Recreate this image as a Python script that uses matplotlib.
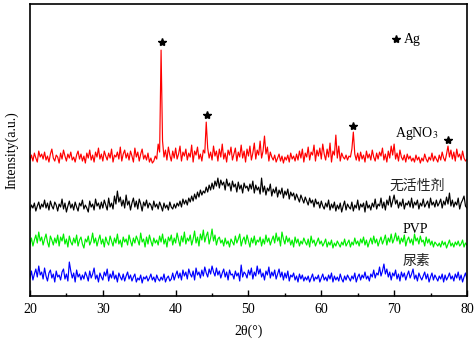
import numpy as np
import matplotlib
matplotlib.use("Agg")
import matplotlib.pyplot as plt

plt.rcParams['font.family'] = ['Liberation Serif', 'Noto Sans CJK SC', 'DejaVu Sans']
plt.rcParams['mathtext.fontset'] = 'stix'

# 2theta grid (degrees), 0.2 deg step
two_theta = np.linspace(20, 80, 301)

agno3 = [
    3, 8, 2, 10, 5, 1, 12, 6, 9, 4,
    11, 3, 7, 1, 9, 14, 5, 2, 8, 6,
    0, 10, 4, 13, 7, 2, 9, 5, 11, 3,
    6, 1, 8, 12, 4, 9, 2, 7, 0, 10,
    5, 13, 3, 8, 1, 11, 6, 15, 4, 9,
    2, 12, 7, 3, 10, 5, 14, 1, 8, 6,
    11, 4, 16, 2, 9, 13, 5, 10, 3, 12,
    7, 1, 15, 6, 11, 2, 9, 14, 4, 8,
    3, 10, 1, 5, 0, 2, 7, 4, 19, 11,
    113, 22, 6, 13, 3, 16, 8, 2, 12, 5,
    15, 4, 9, 17, 2, 11, 7, 14, 3, 10,
    6, 18, 1, 12, 8, 16, 4, 9, 2, 13,
    10, 41, 15, 5, 11, 3, 17, 7, 12, 2,
    14, 6, 19, 4, 10, 1, 13, 8, 16, 3,
    9, 15, 2, 11, 6, 18, 5, 12, 1, 14,
    7, 17, 3, 10, 20, 4, 13, 8, 22, 5,
    12, 27, 9, 16, 2, 11, 6, 3, 8, 1,
    5, 9, 2, 7, 0, 6, 3, 8, 1, 10,
    4, 7, 2, 9, 3, 12, 5, 14, 1, 10,
    6, 16, 3, 11, 8, 18, 2, 13, 7, 15,
    4, 19, 9, 3, 14, 6, 20, 1, 12, 8,
    28, 5, 17, 2, 10, 6, 4, 8, 3, 7,
    6, 14, 31, 9, 3, 10, 2, 11, 4, 8,
    1, 12, 5, 9, 3, 13, 6, 2, 10, 4,
    11, 7, 15, 3, 9, 1, 12, 5, 17, 8,
    19, 4, 10, 2, 13, 6, 3, 8, 1, 9,
    4, 7, 2, 5, 1, 8, 3, 6, 0, 5,
    2, 9, 4, 1, 6, 3, 10, 2, 7, 4,
    1, 8, 3, 11, 5, 2, 9, 17, 6, 13,
    4, 11, 2, 14, 6, 9, 3, 12, 5, 2, 4,
]

no_surfactant = [
    2, 7, 4, 9, 1, 6, 10, 3, 8, 5,
    12, 4, 9, 2, 11, 6, 3, 10, 7, 1,
    8, 5, 13, 3, 9, 0, 6, 11, 4, 8,
    2, 10, 5, 1, 9, 6, 12, 3, 7, 4,
    0, 11, 5, 8, 2, 13, 6, 9, 3, 10,
    4, 12, 7, 2, 14, 5, 9, 3, 16, 8,
    21, 10, 15, 6, 12, 4, 17, 7, 11, 2,
    9, 14, 5, 11, 3, 13, 8, 1, 10, 6,
    12, 4, 9, 7, 2, 11, 5, 8, 3, 10,
    6, 1, 9, 4, 7, 2, 10, 5, 3, 8,
    4, 9, 6, 11, 5, 13, 8, 12, 7, 14,
    10, 16, 11, 18, 13, 20, 15, 22, 17, 21,
    19, 25, 20, 27, 22, 29, 23, 31, 26, 34,
    24, 32, 27, 30, 22, 33, 26, 29, 21, 31,
    25, 28, 20, 30, 23, 27, 19, 29, 24, 26,
    21, 28, 23, 31, 19, 27, 22, 25, 18, 34,
    20, 26, 17, 24, 21, 28, 16, 23, 19, 25,
    15, 22, 18, 24, 14, 21, 17, 23, 13, 20,
    16, 19, 12, 18, 14, 10, 17, 13, 9, 15,
    11, 7, 14, 9, 12, 5, 13, 8, 10, 4,
    11, 6, 3, 9, 5, 12, 2, 8, 4, 10,
    1, 7, 3, 9, 0, 6, 11, 2, 8, 5,
    3, 10, 1, 7, 4, 12, 2, 8, 5, 9,
    0, 11, 4, 7, 2, 9, 5, 13, 3, 8,
    6, 14, 4, 10, 2, 12, 7, 16, 5, 11,
    17, 8, 12, 4, 10, 6, 13, 3, 9, 7,
    11, 5, 14, 4, 10, 7, 12, 3, 9, 6,
    13, 5, 8, 11, 4, 14, 7, 10, 5, 12,
    6, 9, 13, 4, 11, 7, 15, 8, 19, 6,
    12, 5, 10, 7, 14, 3, 9, 12, 16, 6, 4,
]

pvp = [
    4, 10, 2, 8, 13, 5, 16, 7, 11, 3,
    9, 14, 6, 1, 12, 8, 3, 10, 5, 13,
    2, 11, 7, 14, 4, 9, 1, 12, 6, 3,
    10, 5, 13, 2, 8, 11, 4, 0, 9, 6,
    12, 3, 7, 15, 5, 10, 2, 8, 13, 4,
    9, 1, 11, 6, 3, 12, 7, 2, 10, 5,
    14, 4, 8, 1, 11, 6, 9, 3, 13, 7,
    2, 10, 5, 12, 8, 3, 15, 6, 9, 1,
    11, 4, 13, 7, 2, 10, 5, 8, 3, 12,
    6, 14, 4, 9, 1, 11, 7, 13, 3, 10,
    5, 15, 8, 2, 12, 6, 16, 4, 10, 7,
    13, 3, 9, 17, 5, 11, 2, 14, 8, 18,
    6, 12, 16, 4, 10, 19, 7, 13, 3, 9,
    11, 5, 8, 2, 10, 4, 7, 1, 9, 6,
    3, 12, 5, 9, 14, 2, 8, 11, 4, 13,
    7, 1, 10, 5, 12, 3, 8, 6, 11, 2,
    9, 4, 13, 6, 10, 3, 8, 12, 5, 15,
    7, 11, 2, 16, 9, 4, 12, 6, 10, 3,
    8, 1, 11, 5, 9, 2, 7, 4, 10, 6,
    3, 9, 1, 12, 5, 8, 2, 6, 10, 4,
    7, 2, 5, 9, 1, 6, 3, 8, 0, 5,
    2, 7, 4, 1, 6, 3, 9, 2, 5, 8,
    1, 6, 3, 10, 4, 7, 2, 9, 5, 11,
    3, 8, 1, 6, 10, 4, 12, 5, 9, 2,
    7, 11, 4, 8, 13, 3, 10, 6, 14, 5,
    9, 15, 7, 12, 4, 10, 6, 13, 2, 8,
    11, 5, 9, 3, 14, 7, 10, 4, 12, 6,
    8, 2, 11, 5, 9, 3, 7, 1, 6, 4,
    2, 5, 1, 7, 3, 6, 0, 4, 8, 2,
    5, 1, 6, 3, 7, 2, 4, 8, 1, 5, 3,
]

urea = [
    5, 12, 3, 9, 14, 6, 17, 8, 11, 4,
    15, 7, 2, 10, 13, 5, 9, 1, 12, 6,
    8, 3, 11, 14, 4, 9, 2, 21, 12, 5,
    10, 1, 13, 6, 9, 3, 8, 4, 11, 7,
    2, 12, 5, 9, 15, 4, 8, 1, 10, 6,
    3, 11, 7, 14, 2, 9, 5, 12, 4, 8,
    1, 10, 6, 3, 9, 2, 7, 11, 4, 8,
    2, 6, 9, 1, 5, 3, 8, 0, 6, 4,
    7, 2, 5, 9, 3, 6, 1, 8, 4, 2,
    6, 3, 9, 1, 5, 7, 2, 4, 10, 3,
    8, 12, 5, 10, 3, 13, 7, 11, 4, 14,
    9, 6, 12, 3, 15, 8, 11, 5, 13, 7,
    16, 10, 6, 14, 9, 17, 11, 7, 15, 8,
    12, 5, 10, 14, 6, 11, 3, 13, 8, 9,
    4, 12, 7, 10, 2, 18, 6, 11, 9, 5,
    13, 8, 15, 4, 11, 7, 17, 9, 14, 6,
    10, 3, 12, 8, 16, 5, 11, 7, 13, 4,
    9, 14, 6, 11, 3, 10, 5, 12, 2, 8,
    6, 10, 3, 7, 1, 9, 4, 8, 2, 6,
    3, 7, 1, 5, 9, 2, 6, 4, 8, 1,
    5, 9, 3, 6, 2, 8, 4, 10, 1, 7,
    3, 6, 2, 9, 4, 1, 7, 3, 8, 5,
    2, 7, 4, 10, 1, 6, 9, 3, 8, 5,
    11, 4, 7, 2, 9, 6, 13, 5, 10, 8,
    16, 7, 12, 19, 9, 14, 6, 11, 3, 10,
    7, 13, 4, 9, 2, 11, 6, 10, 3, 8,
    12, 5, 9, 14, 4, 8, 2, 10, 6, 3,
    7, 11, 4, 9, 1, 6, 10, 3, 8, 5,
    2, 7, 4, 9, 1, 8, 3, 6, 10, 4,
    7, 2, 9, 5, 11, 3, 8, 1, 6, 10, 4,
]

series_names = ["AgNO$_3$", "无活性剂", "PVP", "尿素"]
ag_peaks = [38.1, 44.3, 64.4, 77.4]

# vertical stacking offsets and styling (layout, not data)
offsets = [133, 84, 48, 13]
colors = ["#ff0000", "#000000", "#00ee00", "#0000ff"]

fig = plt.figure(figsize=(4.77, 3.43), dpi=100)
ax = fig.add_axes([0.0629, 0.137, 0.916, 0.851])

for vals, off, col in zip([agno3, no_surfactant, pvp, urea], offsets, colors):
    ax.plot(two_theta, np.asarray(vals) + off, color=col, lw=0.85)

# star markers above Ag peaks
star_y = [254, 181.5, 170.5, 156.5]
ax.plot(ag_peaks, star_y, ls='none', marker='*', color='black', markersize=6)
ax.plot([70.25], [257], ls='none', marker='*', color='black', markersize=6)
ax.text(71.4, 257, "Ag", fontsize=10, va='center', ha='left')

ax.text(70.1, 163, series_names[0], fontsize=10, va='center', ha='left')
ax.text(69.3, 110, series_names[1], fontsize=10, va='center', ha='left',
        color='#222222', family=['Noto Sans CJK SC'])
ax.text(71.1, 67, series_names[2], fontsize=10, va='center', ha='left')
ax.text(71.2, 35, series_names[3], fontsize=10, va='center', ha='left',
        color='#222222', family=['Noto Sans CJK SC'])

ax.set_xlim(20, 80)
ax.set_ylim(0, 292)
ax.set_xticks([20, 30, 40, 50, 60, 70, 80])
ax.set_xticks(np.arange(25, 80, 10), minor=True)
ax.set_yticks([])
ax.tick_params(axis='x', which='major', direction='in', length=4, width=1,
               labelsize=10, pad=5)
ax.tick_params(axis='x', which='minor', direction='in', length=2.5, width=1)
for s in ax.spines.values():
    s.set_linewidth(1.2)

ax.set_xlabel("2θ(°)", fontsize=10, labelpad=6)
ax.set_ylabel("Intensity(a.u.)", fontsize=10, labelpad=8)

fig.savefig("out.png", dpi=100)
